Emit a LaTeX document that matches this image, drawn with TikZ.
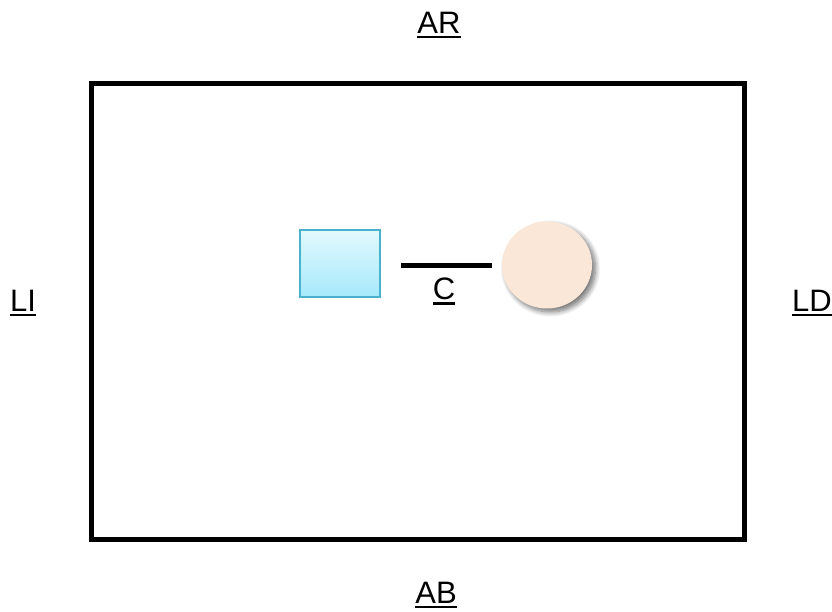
\documentclass[tikz,border=0pt]{standalone}
\usepackage{fontspec}
\setmainfont{Liberation Sans}
\usetikzlibrary{shadows.blur,shapes.geometric}
\definecolor{sqstroke}{HTML}{4AB2CF}
\definecolor{sqtop}{HTML}{E2F9FE}
\definecolor{sqbot}{HTML}{A6E9FA}
\definecolor{circfill}{HTML}{FBE7D8}
\newcommand\myul[1]{\leavevmode\vtop{\hbox{#1}\kern2.5pt\hrule height 2.6pt}}
\tikzset{
  lbl/.style={font=\fontsize{31}{34}\selectfont, inner sep=0pt, text=black},
  frame/.style={line width=5pt, draw=black},
  blk/.style={draw=sqstroke, line width=1.5pt, top color=sqtop, bottom color=sqbot, minimum width=80pt, minimum height=67pt, inner sep=0pt},
  ball/.style={ellipse, fill=circfill, minimum width=90pt, minimum height=87pt, inner sep=0pt,
    blur shadow={shadow xshift=3.5pt, shadow yshift=-3.5pt, shadow blur steps=8, shadow blur radius=5pt, shadow opacity=55}},
  conn/.style={line width=5pt, draw=black}
}
\begin{document}
\begin{tikzpicture}[x=1pt,y=1pt]
\useasboundingbox (0,0) rectangle (832,612);
\draw[frame] (91,528) rectangle (744,72);
\node[blk] (sq) at (340,348.5) {};
\node[ball] (ci) at (547,347) {};
\coordinate (c1) at (401,346);
\coordinate (c2) at (492,346);
\draw[conn] (c1) -- (c2);
\node[lbl] (lc) at (444,321) {\myul{C}};
\node[lbl] (ar) at (439,587) {\myul{AR}};
\node[lbl] (li) at (23,309) {\myul{LI}};
\node[lbl] (ld) at (812,309) {\myul{LD}};
\node[lbl] (ab) at (436,17) {\myul{AB}};
\end{tikzpicture}
\end{document}
